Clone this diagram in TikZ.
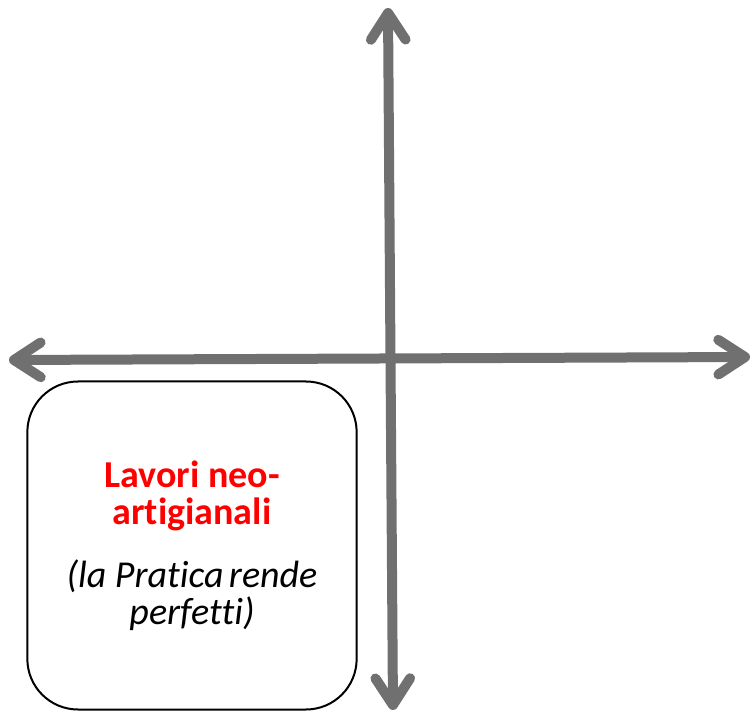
\documentclass[tikz,border=0pt]{standalone}
\usepackage{fontspec}
\setmainfont[Ligatures=NoCommon]{Carlito}
\usetikzlibrary{positioning, arrows.meta}
\definecolor{axisgray}{RGB}{112, 112, 112}
\definecolor{quadred}{RGB}{255, 0, 0}

\begin{document}
\begin{tikzpicture}[x=0.75pt, y=-0.75pt,
    axis/.style={line width=7.5pt, color=axisgray,
      {Straight Barb[length=20pt, width=26pt, round]}-{Straight Barb[length=20pt, width=26pt, round]}},
    quadbox/.style={draw=black, line width=1.5pt, rounded corners=38pt,
      minimum width=247pt, minimum height=246pt, align=center, inner sep=0pt}]
  \useasboundingbox (0,0) rectangle (751,713);

  % Axes
  \coordinate (ytop) at (388,8);
  \coordinate (ybot) at (393,710);
  \coordinate (xleft) at (9,360);
  \coordinate (xright) at (750,357);
  \draw[axis] (ybot) -- (ytop);
  \draw[axis] (xleft) -- (xright);

  % Quadrant box
  \node[quadbox, font=\fontsize{28.5}{27.5}\selectfont] (neoart) at (192,545.5)
    {\color{quadred}\bfseries Lavori neo-\\
     \color{quadred}\bfseries artigianali\\[20pt]
     \color{black}\mdseries\itshape (la Pratica\hspace{4pt}rende\\
     \color{black}\mdseries\itshape perfetti)};
\end{tikzpicture}
\end{document}
